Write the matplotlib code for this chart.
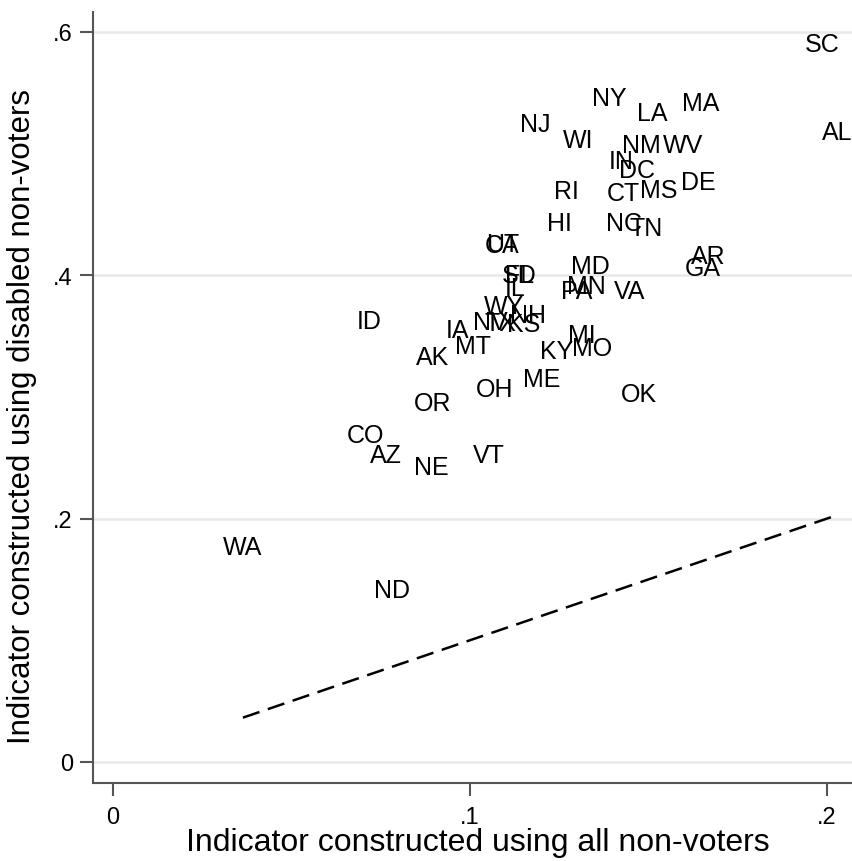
import matplotlib
matplotlib.use("Agg")
import matplotlib.pyplot as plt
import numpy as np

# State-level indicators: all non-voters (x) vs disabled non-voters (y)
states = ["SC", "AL", "NY", "LA", "MA", "NJ", "WI", "NM", "WV", "IN",
          "DC", "DE", "CT", "MS", "RI", "NC", "TN", "HI", "CA", "UT",
          "AR", "GA", "MD", "SD", "FL", "IL", "MN", "PA", "VA", "WY",
          "NH", "KS", "NV", "TX", "IA", "ID", "MT", "MI", "MO", "KY",
          "AK", "ME", "OH", "OK", "OR", "CO", "AZ", "VT", "NE", "WA", "ND"]
x_all = [0.1986, 0.2028, 0.1389, 0.1510, 0.1647, 0.1182, 0.1303, 0.1479, 0.1597, 0.1423,
         0.1468, 0.1639, 0.1431, 0.1529, 0.1269, 0.1431, 0.1493, 0.1252, 0.1090, 0.1092,
         0.1667, 0.1653, 0.1336, 0.1137, 0.1140, 0.1126, 0.1325, 0.1300, 0.1448, 0.1095,
         0.1162, 0.1151, 0.1058, 0.1084, 0.0966, 0.0717, 0.1008, 0.1314, 0.1342, 0.1244,
         0.0896, 0.1202, 0.1070, 0.1473, 0.0896, 0.0706, 0.0765, 0.1053, 0.0891, 0.0364, 0.0782]
y_dis = [0.590, 0.5174, 0.5457, 0.5334, 0.5416, 0.5244, 0.5112, 0.5070, 0.5070, 0.4940,
         0.4866, 0.4767, 0.4677, 0.4701, 0.4693, 0.4430, 0.4389, 0.4430, 0.4249, 0.4257,
         0.4159, 0.4060, 0.4077, 0.3998, 0.3998, 0.3891, 0.3912, 0.3870, 0.3870, 0.3748,
         0.3674, 0.3600, 0.3616, 0.3608, 0.3550, 0.3625, 0.3419, 0.3510, 0.3400, 0.3380,
         0.3329, 0.3148, 0.3066, 0.3025, 0.2950, 0.2688, 0.2523, 0.2523, 0.2425, 0.1767, 0.1414]

x = np.array(x_all)
y = np.array(y_dis)

plt.rcParams["font.family"] = ["Liberation Sans", "DejaVu Sans"]

fig = plt.figure(figsize=(8.53, 8.62), dpi=100)
ax = fig.add_axes([0.109, 0.0905, 0.891, 0.8945])

# labels as markers, centred on each point
for s, xi, yi in zip(states, x, y):
    ax.text(xi, yi, s, ha="center", va="center", fontsize=18, color="black")

# 45-degree reference line over the range of x
xs = np.array([x.min(), x.max()])
ax.plot(xs, xs, color="black", lw=1.8, dashes=(7, 3.5))

ax.set_xlim(-0.0056, 0.2073)
ax.set_ylim(-0.0173, 0.6164)

ax.set_xticks([0, 0.1, 0.2])
ax.set_xticklabels(["0", ".1", ".2"])
ax.set_yticks([0, 0.2, 0.4, 0.6])
ax.set_yticklabels(["0", ".2", ".4", ".6"])
ax.tick_params(axis="both", labelsize=17, length=9.5, width=1.5, color="#555555", pad=5)
ax.tick_params(axis="x", pad=7)

ax.yaxis.grid(True, color="#e8e8e8", lw=1.8)
ax.set_axisbelow(True)

for side in ["top", "right"]:
    ax.spines[side].set_visible(False)
for side in ["left", "bottom"]:
    ax.spines[side].set_color("#555555")
    ax.spines[side].set_linewidth(1.5)

ax.set_xlabel("Indicator constructed using all non-voters", fontsize=23)
ax.set_ylabel("Indicator constructed using disabled non-voters", fontsize=22.5)
ax.xaxis.set_label_coords(0.507, -0.057)
ax.yaxis.set_label_coords(-0.073, 0.477)

plt.savefig("out.png", dpi=100)
